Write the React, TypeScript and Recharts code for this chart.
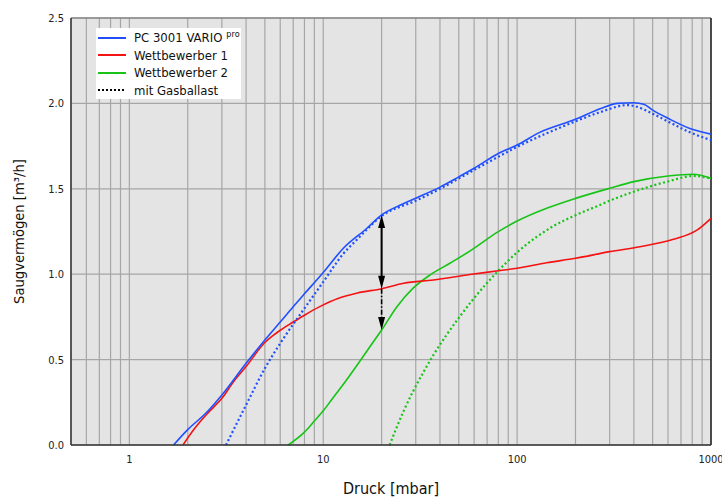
import React from 'react';
import { LineChart, Line, XAxis, YAxis, CartesianGrid, ReferenceLine } from 'recharts';

// Saugvermögen-Kurven (Druck in mbar, Saugvermögen in m³/h)
const blueP = [1.69, 2, 2.5, 3, 4, 5, 6, 7, 8, 10, 12.7, 16.8, 20, 25, 30, 40, 50, 60, 80, 100, 130, 200, 270, 330, 400, 450, 500, 600, 800, 1000];
const blueV = [0, 0.09, 0.19, 0.293, 0.478, 0.615, 0.72, 0.81, 0.885, 1.01, 1.152, 1.269, 1.347, 1.405, 1.445, 1.51, 1.57, 1.62, 1.707, 1.756, 1.829, 1.907, 1.97, 2.0, 2.004, 1.995, 1.961, 1.913, 1.848, 1.82];

const blueGbP = [3.15, 4, 5, 6, 8, 10, 12.7, 15, 20, 30, 40, 60, 100, 200, 270, 370, 400, 500, 600, 800, 1000];
const blueGbV = [0, 0.234, 0.449, 0.595, 0.8, 0.955, 1.12, 1.205, 1.34, 1.43, 1.5, 1.61, 1.745, 1.895, 1.95, 1.99, 1.985, 1.94, 1.894, 1.825, 1.785];

const redP = [1.89, 2.14, 2.5, 3, 3.45, 4, 5, 5.5, 6, 7, 8, 9.6, 12, 15, 20, 26, 37, 57, 80, 100, 142, 200, 300, 430, 640, 850, 1000];
const redV = [0, 0.088, 0.179, 0.273, 0.371, 0.459, 0.6, 0.64, 0.672, 0.72, 0.76, 0.81, 0.859, 0.89, 0.915, 0.947, 0.966, 0.998, 1.02, 1.035, 1.067, 1.093, 1.132, 1.161, 1.204, 1.259, 1.327];

const greenP = [6.6, 8, 9, 10, 11, 12.5, 15, 17.4, 20, 24, 29, 35.5, 45, 57, 80, 100, 142, 200, 300, 400, 600, 810, 1000];
const greenV = [0, 0.075, 0.14, 0.2, 0.262, 0.345, 0.47, 0.575, 0.673, 0.81, 0.917, 0.995, 1.064, 1.135, 1.249, 1.311, 1.386, 1.444, 1.503, 1.542, 1.575, 1.585, 1.561];

const greenGbP = [22, 26, 29, 33, 37, 43, 51, 60, 80, 100, 126, 153, 200, 267, 300, 400, 600, 810, 1000];
const greenGbV = [0, 0.2, 0.312, 0.43, 0.527, 0.64, 0.757, 0.86, 1.02, 1.128, 1.218, 1.28, 1.345, 1.405, 1.43, 1.483, 1.543, 1.575, 1.561];

// Pfeil bei 20 mbar: VARIO -> Wettbewerber 1 -> Wettbewerber 2
const arrowP = 20;
const arrowTop = 1.347;
const arrowMid = 0.915;
const arrowBottom = 0.673;

const xTicks = [0.6, 0.7, 0.8, 0.9, 1, 2, 3, 4, 5, 6, 7, 8, 9, 10, 20, 30, 40, 50, 60, 70, 80, 90, 100, 200, 300, 400, 500, 600, 700, 800, 900, 1000];
const xLabels = [1, 10, 100, 1000];
const yTicks = [0, 0.5, 1.0, 1.5, 2.0, 2.5];

const toRows = (p: number[], v: number[]) => p.map((x, i) => ({ p: x, v: v[i] }));

const FONT = "'DejaVu Sans Condensed', 'DejaVu Sans', sans-serif";
const BLUE = '#1f4fff';
const RED = '#f51212';
const GREEN = '#16c416';

function head(x: number, y: number, dir: 1 | -1) {
  // dir -1: Spitze nach oben, 1: Spitze nach unten
  return <polygon points={`${x},${y} ${x - 3.5},${y - dir * 13} ${x + 3.5},${y - dir * 13}`} fill="#000" />;
}

function SolidArrow(props: any) {
  const { x1, y1, x2, y2 } = props;
  return (
    <g>
      <line x1={x1} y1={y1 + 10} x2={x2} y2={y2 - 10} stroke="#000" strokeWidth={2} />
      {head(x1, y1, -1)}
      {head(x2, y2, 1)}
    </g>
  );
}

function DashArrow(props: any) {
  const { x1, y1, x2, y2 } = props;
  return (
    <g>
      <line x1={x1} y1={y1} x2={x2} y2={y2 - 10} stroke="#000" strokeWidth={1.6} strokeDasharray="5 2 1.5 2" />
      {head(x2, y2, 1)}
    </g>
  );
}

function LegendBox() {
  const rows = [
    { name: 'PC 3001 VARIO', sup: 'pro', color: BLUE, dash: undefined },
    { name: 'Wettbewerber 1', color: RED, dash: undefined },
    { name: 'Wettbewerber 2', color: GREEN, dash: undefined },
    { name: 'mit Gasballast', color: '#000', dash: '2 2' },
  ];
  return (
    <div style={{ position: 'absolute', left: 96, top: 28, width: 145, height: 71, background: '#fff', fontFamily: FONT }}>
      {rows.map((r, i) => (
        <div key={r.name} style={{ position: 'absolute', left: 2, top: 1 + i * 17.6, height: 17, display: 'flex', alignItems: 'center' }}>
          <svg width={28} height={4} style={{ marginRight: 8 }}>
            <line x1={0} y1={2} x2={28} y2={2} stroke={r.color} strokeWidth={2} strokeDasharray={r.dash} />
          </svg>
          <span style={{ fontSize: 13, color: '#111', whiteSpace: 'nowrap' }}>
            {r.name}
            {r.sup ? <sup style={{ fontSize: 9, marginLeft: 4 }}>{r.sup}</sup> : null}
          </span>
        </div>
      ))}
    </div>
  );
}

export default function App() {
  const xLabelStyle = { fontFamily: FONT, fontSize: 16, fill: '#111' };
  const yLabelStyle = { fontFamily: FONT, fontSize: 14.6, fill: '#111' };
  return (
    <div style={{ position: 'absolute', left: 0, top: 0, width: 722, height: 497, background: '#fff' }}>
      <LineChart width={722} height={497} margin={{ top: 18, right: 11, bottom: 22, left: 11 }}>
        <CartesianGrid fill="#e4e4e4" stroke="#a6a6a6" strokeWidth={1.2} />
        <XAxis
          dataKey="p"
          type="number"
          scale="log"
          domain={[0.5, 1000]}
          allowDataOverflow
          ticks={xTicks}
          tickFormatter={(t: number) => (xLabels.includes(t) ? String(t) : '')}
          tickLine={false}
          tickSize={8}
          tick={{ fontFamily: FONT, fontSize: 11, fill: '#222' }}
          axisLine={{ stroke: '#333', strokeWidth: 1.5 }}
          height={30}
          interval={0}
          label={{
            content: ({ viewBox }: any) => (
              <text x={viewBox.x + viewBox.width / 2} y={viewBox.y + 43} textAnchor="middle" dominantBaseline="central" style={xLabelStyle}>
                Druck [mbar]
              </text>
            ),
          }}
        />
        <YAxis
          type="number"
          domain={[0, 2.5]}
          ticks={yTicks}
          tickFormatter={(t: number) => t.toFixed(1)}
          tickLine={false}
          tickSize={5}
          tick={{ fontFamily: FONT, fontSize: 11, fill: '#222' }}
          axisLine={{ stroke: '#333', strokeWidth: 1.5 }}
          width={60}
          interval={0}
          label={{
            content: ({ viewBox }: any) => {
              const x = viewBox.x + 7;
              const y = viewBox.y + viewBox.height / 2;
              return (
                <text x={x} y={y} transform={`rotate(-90, ${x}, ${y})`} textAnchor="middle" dominantBaseline="central" style={yLabelStyle}>
                  Saugvermögen [m³/h]
                </text>
              );
            },
          }}
        />
        <ReferenceLine y={2.5} stroke="#888" strokeWidth={1.5} />
        <ReferenceLine x={1000} stroke="#222" strokeWidth={1.5} />

        <Line data={toRows(greenGbP, greenGbV)} dataKey="v" type="monotone" stroke={GREEN} strokeWidth={2.2} strokeDasharray="2 2.5" dot={false} isAnimationActive={false} />
        <Line data={toRows(greenP, greenV)} dataKey="v" type="monotone" stroke={GREEN} strokeWidth={1.6} dot={false} isAnimationActive={false} />
        <Line data={toRows(redP, redV)} dataKey="v" type="monotone" stroke={RED} strokeWidth={1.6} dot={false} isAnimationActive={false} />
        <Line data={toRows(blueGbP, blueGbV)} dataKey="v" type="monotone" stroke={BLUE} strokeWidth={2.2} strokeDasharray="2 2.5" dot={false} isAnimationActive={false} />
        <Line data={toRows(blueP, blueV)} dataKey="v" type="monotone" stroke={BLUE} strokeWidth={1.6} dot={false} isAnimationActive={false} />

        <ReferenceLine segment={[{ x: arrowP, y: arrowTop }, { x: arrowP, y: arrowMid }]} shape={SolidArrow} />
        <ReferenceLine segment={[{ x: arrowP, y: arrowMid }, { x: arrowP, y: arrowBottom }]} shape={DashArrow} />
      </LineChart>
      <LegendBox />
    </div>
  );
}
